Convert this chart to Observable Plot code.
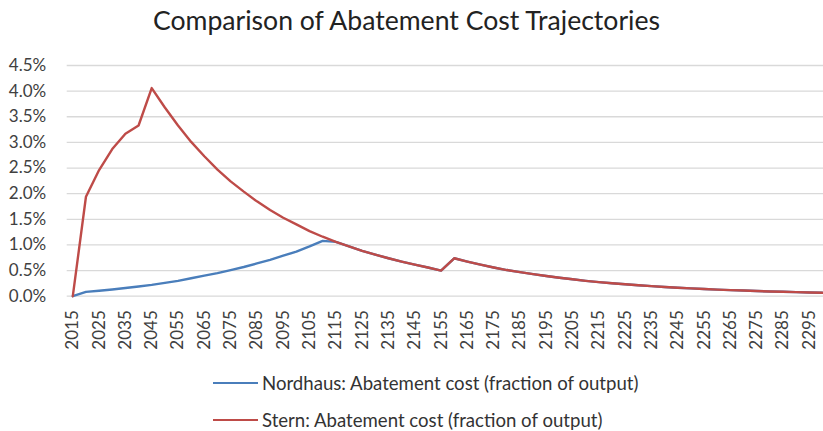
<!DOCTYPE html>
<html>
<head>
<meta charset="utf-8">
<script src="https://cdn.jsdelivr.net/npm/d3@7"></script>
<script src="https://cdn.jsdelivr.net/npm/@observablehq/plot@0.6"></script>
<style>
  body { margin: 0; background: #fff; }
  #wrap { position: relative; width: 823px; height: 431px; overflow: hidden; font-family: Lato, "Open Sans", sans-serif; }
  #chart { position: absolute; left: 0; top: 0; }
  #title { position: absolute; left: 0; width: 813px; top: 7px; text-align: center; font-size: 26.6px; line-height: 26.6px; color: #222; white-space: nowrap; }
  .leg { position: absolute; left: 213px; height: 24px; display: flex; align-items: center; font-size: 18.6px; color: #333; white-space: nowrap; }
  .sw { width: 45px; height: 2.5px; margin-right: 4px; }
</style>
</head>
<body>
<div id="wrap">
  <div id="chart"></div>
  <div id="title">Comparison of Abatement Cost Trajectories</div>
  <div class="leg" style="top:371px"><span class="sw" style="background:#4a7ebb"></span><span>Nordhaus: Abatement cost (fraction of output)</span></div>
  <div class="leg" style="top:408px"><span class="sw" style="background:#be4b48"></span><span>Stern: Abatement cost (fraction of output)</span></div>
</div>
<script>
const years = d3.range(2015, 2301, 5);
const nordhaus = [0, 0.085, 0.105, 0.13, 0.16, 0.19, 0.22, 0.26, 0.30, 0.35,
  0.40, 0.45, 0.51, 0.57, 0.64, 0.71, 0.79, 0.87, 0.97, 1.08,
  1.06, 0.97, 0.885, 0.81, 0.74, 0.675, 0.615, 0.56, 0.50, 0.74,
  0.675, 0.615, 0.56, 0.51, 0.47, 0.43, 0.395, 0.36, 0.33, 0.30,
  0.275, 0.252, 0.232, 0.213, 0.196, 0.18, 0.165, 0.152, 0.14, 0.129,
  0.119, 0.11, 0.101, 0.093, 0.086, 0.079, 0.073, 0.067];
const stern = [0, 1.94, 2.46, 2.87, 3.17, 3.33, 4.06, 3.68, 3.33, 3.01,
  2.73, 2.47, 2.24, 2.04, 1.85, 1.68, 1.53, 1.40, 1.27, 1.16,
  1.06, 0.97, 0.885, 0.81, 0.74, 0.675, 0.615, 0.56, 0.50, 0.74,
  0.675, 0.615, 0.56, 0.51, 0.47, 0.43, 0.395, 0.36, 0.33, 0.30,
  0.275, 0.252, 0.232, 0.213, 0.196, 0.18, 0.165, 0.152, 0.14, 0.129,
  0.119, 0.11, 0.101, 0.093, 0.086, 0.079, 0.073, 0.067];
const yTicks = [0, 0.5, 1, 1.5, 2, 2.5, 3, 3.5, 4, 4.5];
const xTicks = d3.range(2015, 2296, 10);

const nData = years.map((y, i) => ({year: y, value: nordhaus[i]}));
const sData = years.map((y, i) => ({year: y, value: stern[i]}));

const chart = Plot.plot({
  width: 823,
  height: 360,
  marginTop: 65,
  marginBottom: 64.3,
  marginLeft: 66.7,
  marginRight: 0,
  style: {fontFamily: "Lato, 'Open Sans', sans-serif", fontSize: "17px", color: "#404040", background: "transparent"},
  x: {type: "linear", domain: [2012.87, 2300.4]},
  y: {domain: [0, 4.5]},
  marks: [
    Plot.gridY(yTicks, {stroke: "#d9d9d9", strokeOpacity: 1, strokeWidth: 1.3}),
    Plot.axisY(yTicks, {tickSize: 0, tickPadding: 21, tickFormat: d => d.toFixed(1) + "%", fontSize: 17, label: null}),
    Plot.axisX(xTicks, {tickRotate: -90, tickSize: 0, tickPadding: 14, tickFormat: d => String(d), fontSize: 17, label: null}),
    Plot.line(nData, {x: "year", y: "value", stroke: "#4a7ebb", strokeWidth: 2.4}),
    Plot.line(sData, {x: "year", y: "value", stroke: "#be4b48", strokeWidth: 2.4})
  ]
});
document.getElementById("chart").appendChild(chart);
</script>
</body>
</html>
